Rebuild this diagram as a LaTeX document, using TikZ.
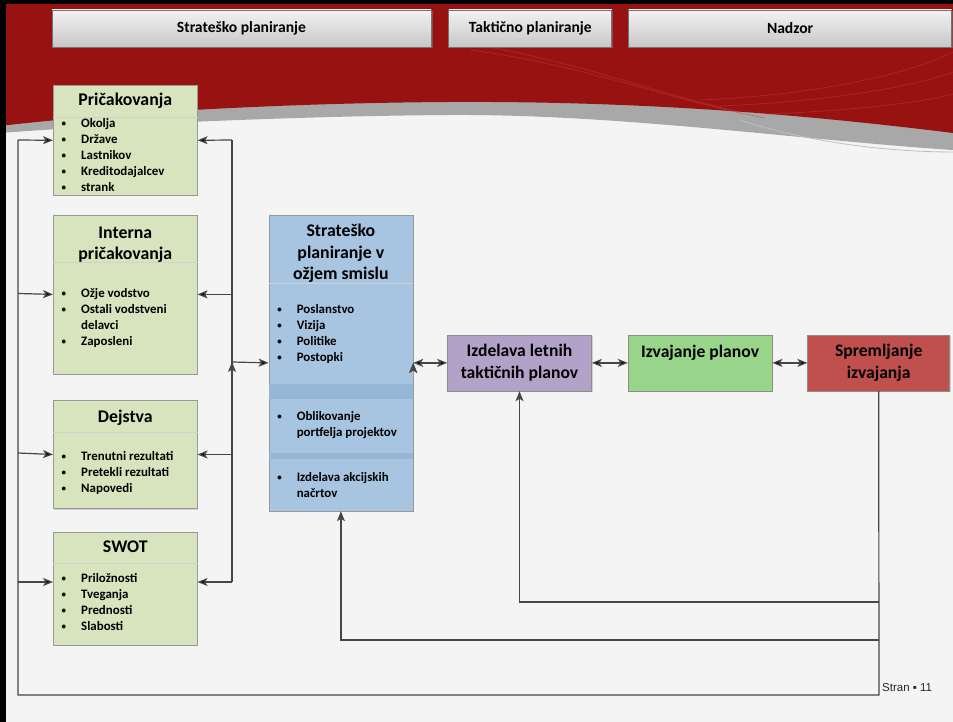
\documentclass[tikz,border=0pt]{standalone}
\usepackage{fontspec}
\setmainfont{Carlito}
\newfontfamily\stranfont{Liberation Sans}
\usetikzlibrary{arrows.meta,positioning,calc,shadows}

\definecolor{banner}{RGB}{152,18,18}
\definecolor{bannerhi}{RGB}{200,60,55}
\definecolor{band}{RGB}{168,168,168}
\definecolor{page}{RGB}{244,244,244}
\definecolor{olivebox}{RGB}{215,228,189}
\definecolor{sky}{RGB}{167,196,224}
\definecolor{skydark}{RGB}{150,182,214}
\definecolor{lilac}{RGB}{179,162,199}
\definecolor{leaf}{RGB}{152,212,138}
\definecolor{brick}{RGB}{192,80,77}
\definecolor{wiregray}{RGB}{70,70,70}

\newcommand{\bul}{\llap{\raisebox{1pt}{\fontsize{9}{9}\selectfont\textbullet}\hspace{15pt}}}

\tikzset{
  hdr/.style={draw=black!55, line width=.8pt, top color=black!5, bottom color=black!22,
              drop shadow={shadow xshift=1.5pt, shadow yshift=-1.5pt, opacity=.5},
              minimum height=37pt, inner sep=0pt, font=\fontsize{15.6}{18}\selectfont\bfseries},
  grp/.style={draw=black!40, line width=.6pt, fill=olivebox, minimum width=144pt, inner sep=0pt,
              drop shadow={shadow xshift=1pt, shadow yshift=-1pt, opacity=.3}},
  ttl/.style={anchor=base, align=center, inner sep=0pt, font=\fontsize{17.8}{21.5}\selectfont\bfseries},
  lst/.style={anchor=base west, align=left, inner sep=0pt, font=\fontsize{12.9}{16}\selectfont\bfseries},
  stage/.style={draw=black!45, line width=.6pt, minimum width=144pt, minimum height=56pt,
                drop shadow={shadow xshift=1pt, shadow yshift=-1pt, opacity=.3},
                align=center, font=\fontsize{17.6}{22.5}\selectfont\bfseries},
  wire/.style={draw=wiregray, line width=1.2pt},
}

\begin{document}
\begin{tikzpicture}[x=1pt, y=-1pt, >={Stealth[length=10pt,width=8pt,inset=2.5pt]}]
    \useasboundingbox (0,0) rectangle (953,722);

    % background of the slide
    \fill[page] (0,0) rectangle (953,722);
    \fill[band] (0,0) -- (953,0) -- (953,150) .. controls (800,140) and (620,114) .. (450,115)
                .. controls (300,116) and (120,124) .. (0,133) -- cycle;
    \fill[banner] (0,0) -- (953,0) -- (953,133) .. controls (800,114) and (640,101) .. (450,102)
                  .. controls (280,103) and (110,113) .. (0,126) -- cycle;
    \begin{scope}[bannerhi, line width=.7pt, opacity=.5]
        \draw (455,42) .. controls (560,55) and (660,95) .. (740,112);
        \draw (470,50) .. controls (580,64) and (670,100) .. (765,118);
        \draw (700,100) .. controls (800,96) and (900,78) .. (953,52);
        \draw (720,106) .. controls (820,102) and (910,88) .. (953,72);
        \draw (770,114) .. controls (860,110) and (925,102) .. (953,94);
    \end{scope}
    \draw[black!25, line width=.8pt] (740,120) .. controls (800,140) and (880,152) .. (953,152);
    \fill[black] (0,0) rectangle (6,722);
    \fill[black] (0,0) rectangle (953,4);

    % header
    \node[hdr, minimum width=379pt] (hstrat) at (241.5,28.5)         {Strateško planiranje};
    \node[hdr, minimum width=163pt] (htakt)  [right=17pt of hstrat]  {Taktično planiranje};
    \node[hdr, minimum width=323pt] (hnadz)  [right=16pt of htakt]   {Nadzor};

    % left column
    \node[grp, minimum height=110pt, anchor=north west] (ocek)    at (53,85)               {};
    \node[grp, minimum height=159pt]                    (interna) [below=19pt of ocek]    {};
    \node[grp, minimum height=108pt]                    (dejstva) [below=26pt of interna] {};
    \node[grp, minimum height=113pt]                    (swot)    [below=23pt of dejstva] {};

    \draw[black!18] ($(ocek.north west)+(0,32)$)    -- ($(ocek.north east)+(0,32)$);
    \draw[black!18] ($(interna.north west)+(0,48)$) -- ($(interna.north east)+(0,48)$);
    \draw[black!18] ($(dejstva.north west)+(0,32)$) -- ($(dejstva.north east)+(0,32)$);
    \draw[black!18] ($(swot.north west)+(0,31)$)    -- ($(swot.north east)+(0,31)$);

    % (base of a node with several lines = its last line)
    \node[ttl] (ocek-t)    at ($(ocek.north)+(0,21)$)      {Pričakovanja};
    \node[ttl] (interna-t) at ($(interna.north)+(0,45)$)   {Interna\\pričakovanja};
    \node[ttl] (dejstva-t) at ($(dejstva.north)+(0,22)$)   {Dejstva};
    \node[ttl] (swot-t)    at ($(swot.north)+(0,21)$)      {SWOT};

    \node[lst] (ocek-l)    at ($(ocek.north west)+(28,107)$)
        {\bul Okolja\\\bul Države\\\bul Lastnikov\\\bul Kreditodajalcev\\\bul strank};
    \node[lst] (interna-l) at ($(interna.north west)+(28,131)$)
        {\bul Ožje vodstvo\\\bul Ostali vodstveni\\delavci\\\bul Zaposleni};
    \node[lst] (dejstva-l) at ($(dejstva.north west)+(28,92)$)
        {\bul Trenutni rezultati\\\bul Pretekli rezultati\\\bul Napovedi};
    \node[lst] (swot-l)    at ($(swot.north west)+(28,99)$)
        {\bul Priložnosti\\\bul Tveganja\\\bul Prednosti\\\bul Slabosti};

    % middle column
    \node[grp, fill=sky, minimum height=296pt, anchor=north west] (sredina)
        at ($(interna.north east)+(71,0)$) {};
    \fill[skydark] ($(sredina.north west)+(.4,169)$) rectangle ($(sredina.north east)+(-.4,184)$);
    \fill[skydark] ($(sredina.north west)+(.4,238)$) rectangle ($(sredina.north east)+(-.4,244)$);
    \draw[black!18] ($(sredina.north west)+(0,69)$) -- ($(sredina.north east)+(0,69)$);

    \node[ttl] (sredina-t)  at ($(sredina.north)+(0,65)$) {Strateško\\planiranje v\\ožjem smislu};
    \node[lst] (sredina-l1) at ($(sredina.north west)+(28,147)$)
        {\bul Poslanstvo\\\bul Vizija\\\bul Politike\\\bul Postopki};
    \node[lst] (sredina-l2) at ($(sredina.north west)+(28,222)$)
        {\bul Oblikovanje\\portfelja projektov};
    \node[lst] (sredina-l3) at ($(sredina.north west)+(28,283)$)
        {\bul Izdelava akcijskih\\načrtov};

    % right chain
    \node[stage, fill=lilac]                      (izdelava)    [right=34pt of sredina]  {Izdelava letnih\\taktičnih planov};
    \node[stage, fill=leaf]                       (izvajanje)   [right=36pt of izdelava] {Izvajanje planov\\\mbox{}};
    \node[stage, fill=brick, minimum width=142pt] (spremljanje) [right=35pt of izvajanje] {Spremljanje\\izvajanja};

    % connectors
    \coordinate (lev1) at (18,140);
    \coordinate (lev2) at (18,293.5);
    \coordinate (lev3) at (18,453);
    \coordinate (lev4) at (18,582);
    \coordinate (des1) at (232,140);
    \coordinate (des4) at (232,582);
    \coordinate (desc) at (232,362);
    \coordinate (fb1)  at (879,602);
    \coordinate (fb2)  at (879,640);
    \coordinate (fb3)  at (879,695);

    \draw[wire]     (spremljanje.south) -- (fb3) -| (lev1);
    \draw[wire, ->] (fb1) -| (izdelava.south);
    \draw[wire, ->] (fb2) -| (sredina.south);
    \draw[wire]     (des1) -- (des4);

    \path[wire, ->] (lev1) edge (ocek.west)
                    (lev2) edge (interna.west)
                    (lev3) edge (dejstva.west)
                    (lev4) edge (lev4 -| swot.west)
                    (des1) edge (ocek.east)
                    (des1 |- interna.east) edge (interna.east)
                    (des1 |- dejstva.east) edge (dejstva.east)
                    (des4) edge (des4 -| swot.east)
                    (desc) edge (sredina.west);
    \path[wire, <->] (sredina.east) edge (izdelava.west)
                     (izdelava)     edge (izvajanje)
                     (izvajanje)    edge (spremljanje);

    \node[anchor=base west, inner sep=0pt, text=black!85, font=\stranfont\fontsize{11.5}{13}\selectfont]
        (stran) at (882,691) {Stran ▪ 11};
\end{tikzpicture}
\end{document}
